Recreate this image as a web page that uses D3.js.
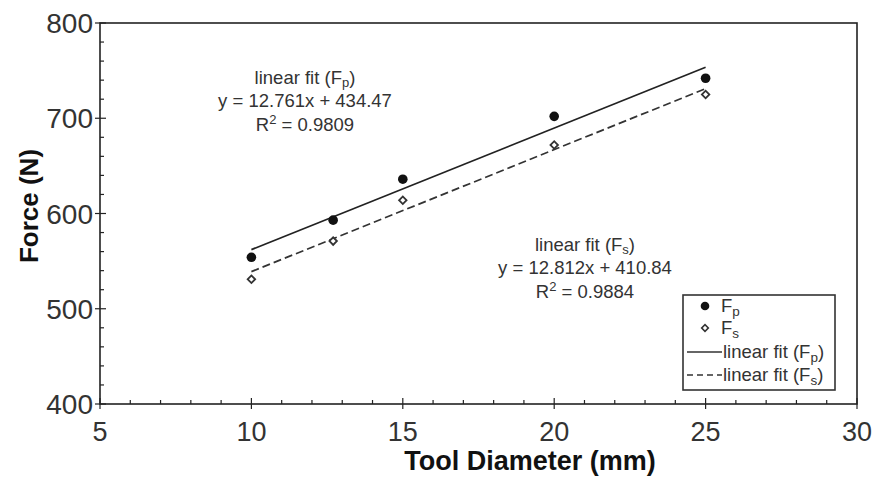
<!DOCTYPE html>
<html lang="en">
<head>
  <meta charset="utf-8">
  <title>Force vs Tool Diameter</title>
  <script src="https://d3js.org/d3.v7.min.js"></script>
  <style>
    body { margin: 0; background: #fff; }
    svg { display: block; font-family: "Liberation Sans", Arial, sans-serif; }
  </style>
</head>
<body>
  <svg width="874" height="477"></svg>
  <script>
    // measured tool diameters (mm)
    const diameters = [10, 12.7, 15, 20, 25];
    // plunge force Fp and shoulder force Fs (N)
    const forceP = [554, 593, 636, 702, 742];
    const forceS = [531, 571, 614, 672, 725];
    // fitted lines, values at the first and last diameter
    const fitX = [10, 25];
    const fitP = [562.1, 753.5];
    const fitS = [539.0, 731.1];

    const xTicks = [5, 10, 15, 20, 25, 30];
    const yTicks = [400, 500, 600, 700, 800];

    const svg = d3.select("svg");
    const plotL = 100, plotR = 857, plotT = 23, plotB = 404;
    const ink = "#222";

    const x = d3.scaleLinear().domain([5, 30]).range([plotL, plotR]);
    const y = d3.scaleLinear().domain([400, 800]).range([plotB, plotT]);

    // frame
    svg.append("rect")
      .attr("x", plotL).attr("y", plotT)
      .attr("width", plotR - plotL).attr("height", plotB - plotT)
      .attr("fill", "none").attr("stroke", ink).attr("stroke-width", 1.6);

    // x axis ticks (inward), minor every 1
    const xMinor = d3.range(5, 30.01, 1);
    svg.append("g").selectAll("line").data(xMinor).join("line")
      .attr("x1", d => x(d)).attr("x2", d => x(d))
      .attr("y1", d => xTicks.includes(d) ? plotB + 5 : plotB)
      .attr("y2", d => xTicks.includes(d) ? plotB - 6 : plotB - 4)
      .attr("stroke", ink).attr("stroke-width", 1.2);
    svg.append("g").selectAll("text").data(xTicks).join("text")
      .attr("x", d => x(d)).attr("y", plotB + 37)
      .attr("text-anchor", "middle")
      .attr("font-size", 27).attr("fill", "#333")
      .text(d => d);

    // y axis ticks (inward), minor every 20
    const yMinor = d3.range(400, 800.01, 20);
    svg.append("g").selectAll("line").data(yMinor).join("line")
      .attr("y1", d => y(d)).attr("y2", d => y(d))
      .attr("x1", d => yTicks.includes(d) ? plotL - 5 : plotL)
      .attr("x2", d => yTicks.includes(d) ? plotL + 6 : plotL + 4)
      .attr("stroke", ink).attr("stroke-width", 1.2);
    svg.append("g").selectAll("text").data(yTicks).join("text")
      .attr("x", plotL - 7).attr("y", d => y(d) + 10)
      .attr("text-anchor", "end")
      .attr("font-size", 28).attr("fill", "#333")
      .text(d => d);

    // axis titles
    svg.append("text")
      .attr("x", 530).attr("y", 470)
      .attr("text-anchor", "middle")
      .attr("font-size", 27).attr("font-weight", "bold").attr("fill", "#111")
      .text("Tool Diameter (mm)");
    svg.append("text")
      .attr("transform", "translate(38,206) rotate(-90)")
      .attr("text-anchor", "middle")
      .attr("font-size", 26).attr("font-weight", "bold").attr("fill", "#111")
      .text("Force (N)");

    // fit lines
    const line = d3.line().x(d => x(d[0])).y(d => y(d[1]));
    svg.append("path")
      .attr("d", line(d3.zip(fitX, fitP)))
      .attr("fill", "none").attr("stroke", ink).attr("stroke-width", 1.7);
    svg.append("path")
      .attr("d", line(d3.zip(fitX, fitS)))
      .attr("fill", "none").attr("stroke", "#333").attr("stroke-width", 1.7)
      .attr("stroke-dasharray", "8,4");

    // data points
    svg.append("g").selectAll("circle").data(d3.zip(diameters, forceP)).join("circle")
      .attr("cx", d => x(d[0])).attr("cy", d => y(d[1]))
      .attr("r", 4.8).attr("fill", "#111");
    const diamond = d3.symbol().type(d3.symbolSquare).size(28);
    svg.append("g").selectAll("path").data(d3.zip(diameters, forceS)).join("path")
      .attr("transform", d => `translate(${x(d[0])},${y(d[1])}) rotate(45)`)
      .attr("d", diamond)
      .attr("fill", "#fff").attr("stroke", "#333").attr("stroke-width", 1.8);

    // annotation helper: label with subscript
    function fitNote(cx, cy, sub, eq, r2) {
      const g = svg.append("g").attr("font-size", 18.5).attr("fill", "#333")
        .attr("text-anchor", "middle");
      const t1 = g.append("text").attr("x", cx).attr("y", cy);
      t1.append("tspan").text("linear fit (F");
      t1.append("tspan").attr("font-size", 13).attr("dy", 3).text(sub);
      t1.append("tspan").attr("dy", -3).text(")");
      g.append("text").attr("x", cx).attr("y", cy + 23).text(eq);
      const t3 = g.append("text").attr("x", cx).attr("y", cy + 47);
      t3.append("tspan").text("R");
      t3.append("tspan").attr("font-size", 13).attr("dy", -7).text("2");
      t3.append("tspan").attr("dy", 7).text(" = " + r2);
    }
    fitNote(305, 84, "p", "y = 12.761x + 434.47", "0.9809");
    fitNote(585, 251, "s", "y = 12.812x + 410.84", "0.9884");

    // legend
    const lg = svg.append("g");
    lg.append("rect")
      .attr("x", 683).attr("y", 295).attr("width", 152).attr("height", 95)
      .attr("fill", "#fff").attr("stroke", "#333").attr("stroke-width", 1.6);
    const legendItems = [
      { kind: "dot", sub: "p", label: "F", y: 306 },
      { kind: "diamond", sub: "s", label: "F", y: 328 },
      { kind: "solid", sub: "p", label: "linear fit (F", y: 352 },
      { kind: "dash", sub: "s", label: "linear fit (F", y: 375 }
    ];
    legendItems.forEach(it => {
      if (it.kind === "dot") {
        lg.append("circle").attr("cx", 705).attr("cy", it.y).attr("r", 4.3).attr("fill", "#111");
      } else if (it.kind === "diamond") {
        lg.append("path").attr("transform", `translate(705,${it.y}) rotate(45)`)
          .attr("d", d3.symbol().type(d3.symbolSquare).size(22))
          .attr("fill", "#fff").attr("stroke", "#333").attr("stroke-width", 1.6);
      } else {
        lg.append("line").attr("x1", 687).attr("x2", 722)
          .attr("y1", it.y).attr("y2", it.y)
          .attr("stroke", "#333").attr("stroke-width", 1.5)
          .attr("stroke-dasharray", it.kind === "dash" ? "6,4" : null);
      }
      const isFit = it.kind === "solid" || it.kind === "dash";
      const t = lg.append("text")
        .attr("x", isFit ? 723 : 721).attr("y", it.y + 6)
        .attr("font-size", 18.5).attr("fill", "#333");
      t.append("tspan").text(it.label);
      t.append("tspan").attr("font-size", 13.5).attr("dy", 4).text(it.sub);
      if (isFit) t.append("tspan").attr("dy", -4).text(")");
    });
  </script>
</body>
</html>
